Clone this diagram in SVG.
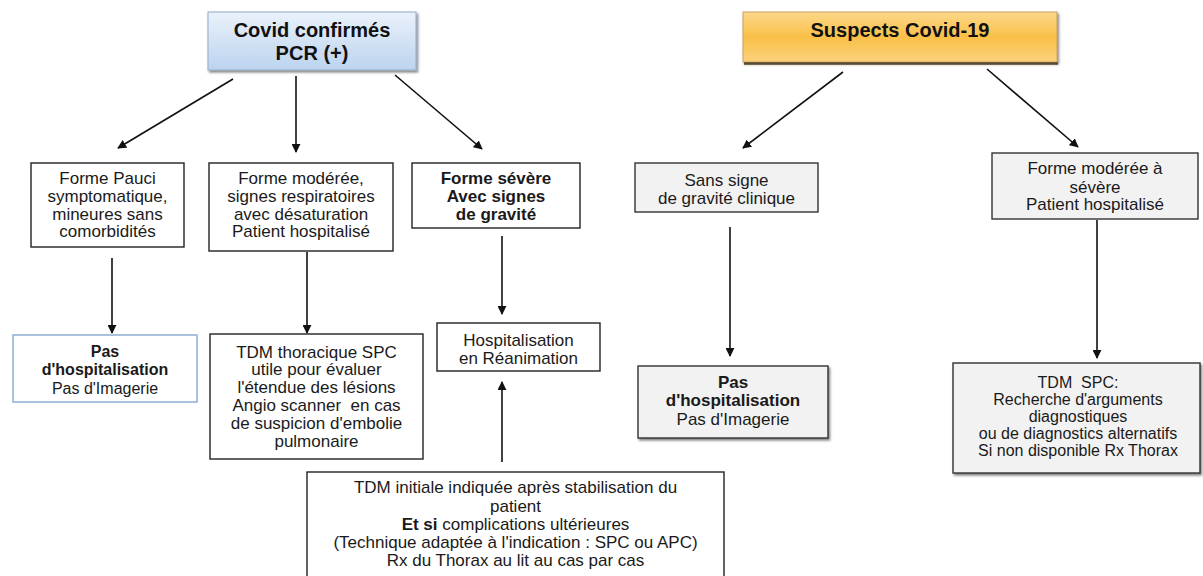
<svg xmlns="http://www.w3.org/2000/svg" width="1203" height="576" viewBox="0 0 1203 576">
<style>
text{font-family:"Liberation Sans",Arial,sans-serif;fill:#1a1a1a;text-anchor:middle;font-size:17px;white-space:pre}
.b{font-weight:bold}
.s{font-size:16px}
.t{font-size:20px;font-weight:bold;fill:#111}
.box{fill:#fff;stroke:#222;stroke-width:1.4}
.grey{fill:#f2f2f2;stroke:#333;stroke-width:1.4}
.edge{stroke:#111;stroke-width:1.6;fill:none;marker-end:url(#ah)}
</style>
<defs>
<marker id="ah" viewBox="0 0 10 10" refX="9" refY="5" markerWidth="9" markerHeight="9" markerUnits="userSpaceOnUse" orient="auto">
<path d="M0,0 L10,5 L0,10 z" fill="#111"/>
</marker>
<linearGradient id="gBlue" x1="0" y1="0" x2="0" y2="1">
<stop offset="0" stop-color="#eaf2fb"/>
<stop offset="1" stop-color="#bcd3ef"/>
</linearGradient>
<linearGradient id="gOrange" x1="0" y1="0" x2="0" y2="1">
<stop offset="0" stop-color="#fcd88a"/>
<stop offset="0.5" stop-color="#f9c048"/>
<stop offset="1" stop-color="#fbd27a"/>
</linearGradient>
<filter id="sh" x="-5%" y="-5%" width="115%" height="125%">
<feDropShadow dx="1.5" dy="2" stdDeviation="1" flood-color="#555" flood-opacity="0.7"/>
</filter>
</defs>

<g id="connectors">
<line class="edge" x1="233" y1="79" x2="118" y2="148"/>
<line class="edge" x1="296" y1="76" x2="296" y2="152"/>
<line class="edge" x1="395" y1="75" x2="482" y2="149"/>
<line class="edge" x1="843" y1="72" x2="743" y2="148"/>
<line class="edge" x1="987" y1="69" x2="1078" y2="147"/>
<line class="edge" x1="112" y1="258" x2="112" y2="333"/>
<line class="edge" x1="307" y1="252" x2="307" y2="333"/>
<line class="edge" x1="502" y1="236" x2="502" y2="314"/>
<line class="edge" x1="730" y1="227" x2="730" y2="356"/>
<line class="edge" x1="1097" y1="220" x2="1097" y2="358"/>
<line class="edge" x1="502" y1="462" x2="502" y2="382"/>
</g>

<g id="covid-confirmes">
<rect x="208" y="12" width="208" height="58" fill="url(#gBlue)" stroke="#9fb6cf" stroke-width="1.2" filter="url(#sh)"/>
<text class="t" x="312" y="37">Covid confirmés</text>
<text class="t" x="312" y="60">PCR (+)</text>
</g>

<g id="suspects">
<rect x="743" y="12" width="314" height="50" fill="url(#gOrange)" stroke="#c9a060" stroke-width="1" filter="url(#sh)"/>
<line x1="744" y1="63.5" x2="1058" y2="63.5" stroke="#5a4a30" stroke-width="2.5"/>
<text class="t" x="900" y="37">Suspects Covid-19</text>
</g>

<g id="pauci">
<rect class="box" x="31" y="163" width="153" height="84"/>
<text x="107.5" y="184">Forme Pauci</text>
<text x="107.5" y="202">symptomatique,</text>
<text x="107.5" y="219.5">mineures sans</text>
<text x="107.5" y="237">comorbidités</text>
</g>

<g id="moderee">
<rect class="box" x="209" y="163" width="184" height="88"/>
<text x="301" y="184">Forme modérée,</text>
<text x="301" y="202">signes respiratoires</text>
<text x="301" y="219.5">avec désaturation</text>
<text x="301" y="237">Patient hospitalisé</text>
</g>

<g id="severe">
<rect class="box" x="412" y="163" width="168" height="65"/>
<text class="b" x="496" y="184">Forme sévère</text>
<text class="b" x="496" y="202">Avec signes</text>
<text class="b" x="496" y="219.5">de gravité</text>
</g>

<g id="sans-signe">
<rect class="grey" x="635" y="163" width="183" height="49"/>
<text x="726.5" y="186">Sans signe</text>
<text x="726.5" y="203.5">de gravité clinique</text>
</g>

<g id="moderee-severe">
<rect class="grey" x="992" y="153" width="206" height="66"/>
<text x="1095" y="174">Forme modérée à</text>
<text x="1095" y="192.5">sévère</text>
<text x="1095" y="210">Patient hospitalisé</text>
</g>

<g id="pas-hosp-1">
<rect x="13" y="335" width="184" height="67" fill="#fff" stroke="#95b3d7" stroke-width="1.6"/>
<text class="b s" x="105" y="357">Pas</text>
<text class="b s" x="105" y="375">d'hospitalisation</text>
<text class="s" x="105" y="393.5">Pas d'Imagerie</text>
</g>

<g id="tdm-thoracique">
<rect class="box" x="210" y="334" width="213" height="125"/>
<text x="316.5" y="357.5">TDM thoracique SPC</text>
<text x="316.5" y="375">utile pour évaluer</text>
<text x="316.5" y="393">l'étendue des lésions</text>
<text x="316.5" y="411">Angio scanner  en cas</text>
<text x="316.5" y="429">de suspicion d'embolie</text>
<text x="316.5" y="446.5">pulmonaire</text>
</g>

<g id="reanimation">
<rect class="box" x="437" y="323" width="163" height="48"/>
<text x="518.5" y="345.5">Hospitalisation</text>
<text x="518.5" y="363.5">en Réanimation</text>
</g>

<g id="pas-hosp-2">
<rect class="grey" x="638" y="366" width="190" height="72" filter="url(#sh)"/>
<text class="b" x="733" y="388">Pas</text>
<text class="b" x="733" y="406">d'hospitalisation</text>
<text x="733" y="424.5">Pas d'Imagerie</text>
</g>

<g id="tdm-spc">
<rect class="grey" x="953" y="363" width="247" height="110" filter="url(#sh)"/>
<text class="s" x="1078" y="387.5">TDM  SPC:</text>
<text class="s" x="1078" y="404.5">Recherche d'arguments</text>
<text class="s" x="1078" y="421.5">diagnostiques</text>
<text class="s" x="1078" y="438.5">ou de diagnostics alternatifs</text>
<text class="s" x="1078" y="455.5">Si non disponible Rx Thorax</text>
</g>

<g id="tdm-initiale">
<rect class="box" x="307" y="472" width="417" height="112"/>
<text x="515.5" y="493">TDM initiale indiquée après stabilisation du</text>
<text x="515.5" y="511.5">patient</text>
<text x="515.5" y="530"><tspan class="b">Et si</tspan> complications ultérieures</text>
<text x="515.5" y="548">(Technique adaptée à l'indication : SPC ou APC)</text>
<text x="515.5" y="566">Rx du Thorax au lit au cas par cas</text>
</g>
</svg>
